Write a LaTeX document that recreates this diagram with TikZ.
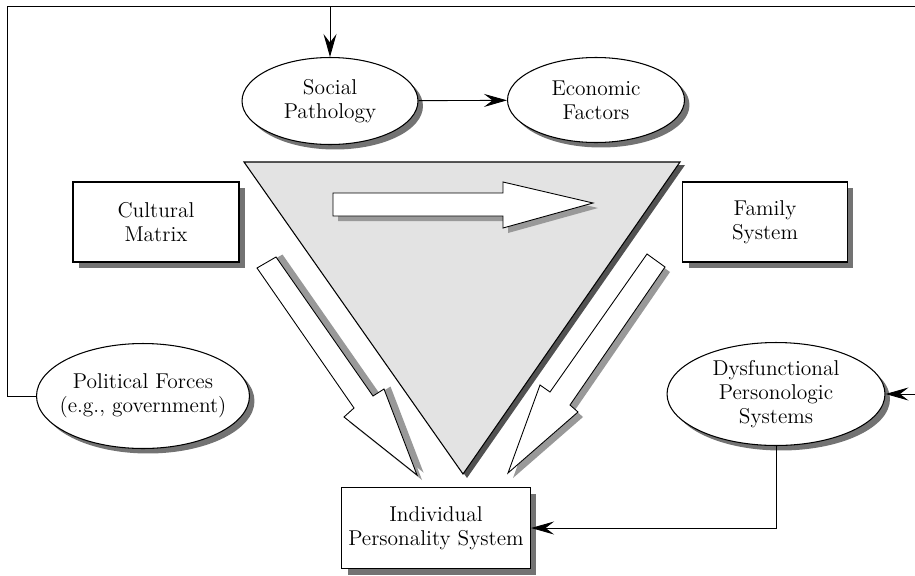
\documentclass[tikz,border=0pt]{standalone}
\usetikzlibrary{shapes.geometric,shadows,arrows.meta}
\tikzset{
	oval/.style={ellipse,draw,fill=white,line width=0.6pt,align=center,inner sep=1pt,
		font=\fontsize{12.2}{13.5}\selectfont,
		drop shadow={shadow xshift=0.1cm,shadow yshift=-0.1cm,fill=black!55,opacity=1}},
	sysbox/.style={rectangle,draw,fill=white,line width=0.7pt,align=center,inner sep=1pt,
		font=\fontsize{12.2}{13.5}\selectfont,
		drop shadow={shadow xshift=0.12cm,shadow yshift=-0.12cm,fill=black!55,opacity=1}},
	fatarrow/.style={draw,fill=white,line width=0.5pt,line join=miter,
		drop shadow={shadow xshift=0.1cm,shadow yshift=-0.1cm,fill=black!40,opacity=1}},
	link/.style={line width=0.5pt,-{Stealth[length=4.6mm,width=2.6mm,inset=1.7mm]}}
}
\begin{document}
\begin{tikzpicture}[x=0.02cm,y=-0.02cm]
		\useasboundingbox (0,0) rectangle (915,575);
		\clip (0,0) rectangle (915,575);
		% triangle
		\draw[fill=black!68,draw=none] (249,165) -- (685,165) -- (467,478) -- cycle;
		\draw[fill=black!11,line width=0.6pt] (244,162) -- (680,162) -- (463,474) -- cycle;
		\coordinate (topl) at (7,6);
		\coordinate (topr) at (935,6);
		\node[oval,minimum width=3.52cm,minimum height=1.74cm] (social) at (330,101) {Social\\Pathology};
		\node[oval,minimum width=3.54cm,minimum height=1.70cm] (econ) at (596,100) {Economic\\Factors};
		\node[sysbox,minimum width=3.32cm,minimum height=1.6cm] (cultural) at (156,222) {Cultural\\Matrix};
		\node[sysbox,minimum width=3.3cm,minimum height=1.6cm] (family) at (765,222) {Family\\System};
		\node[oval,inner xsep=-6pt,minimum width=4.26cm,minimum height=2.1cm] (political) at (143,396) {Political Forces\\(e.g., government)};
		\node[oval,minimum width=4.36cm,minimum height=2.06cm] (dysf) at (776,394) {Dysfunctional\\Personologic\\Systems};
		\node[sysbox,minimum width=3.78cm,minimum height=1.62cm] (indiv) at (436,528) {Individual\\Personality System};
		% block arrows
		\draw[fatarrow] (333,193) -- (503,193) -- (503,182) -- (593,203) -- (503,228) -- (503,216) -- (333,216) -- cycle;
		\draw[fatarrow,drop shadow={shadow xshift=0.13cm,shadow yshift=0.05cm,fill=black!40,opacity=1}]
			(257,268) -- (276,257) -- (373,396) -- (384,389) -- (417,475) -- (344,417) -- (354,408) -- cycle;
		\draw[fatarrow] (647,254) -- (665,267) -- (570,405) -- (578,412) -- (508,473) -- (540,385) -- (550,392) -- cycle;
		% connectors
		\draw[link] (social) -- (econ);
		\draw[link] (social.north |- topl) -- (social.north);
		\draw[link] (political.west) -| (topl) -- (topr) |- (dysf.east);
		\draw[link] (dysf.south) |- (indiv.east);
	\end{tikzpicture}
\end{document}
